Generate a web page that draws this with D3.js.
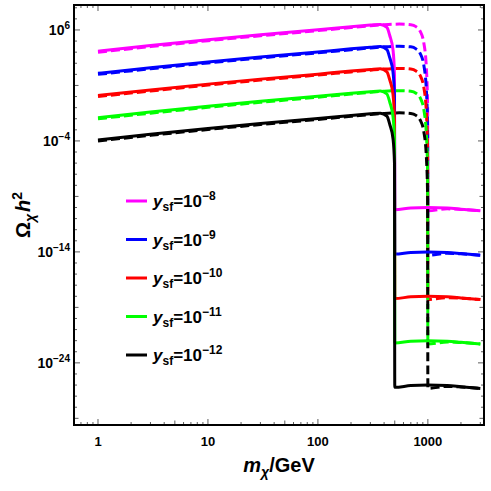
<!DOCTYPE html>
<html>
<head>
<meta charset="utf-8">
<script src="https://cdn.jsdelivr.net/npm/d3@7"></script>
<style>
  body { margin: 0; background: #fff; }
  text { font-family: "Liberation Sans", Arial, sans-serif; font-weight: bold; }
</style>
</head>
<body>
<div id="root"></div>
<script>
// couplings and colours, one per curve pair
var couplingExp = ["\u22128", "\u22129", "\u221210", "\u221211", "\u221212"];
var colors = ["#ff00ff", "#0000ff", "#ff0000", "#00ff00", "#000000"];

// solid curves: mass in GeV, log10 of relic abundance
var massSolid = [1, 3, 10, 30, 100, 200, 300, 370, 424, 450, 482, 497, 500, 700, 1000, 1500, 2000, 3000];
var solidMagenta = [4.09, 4.60, 5.12, 5.57, 6.02, 6.30, 6.44, 6.50, 6.23, 5.50, 4.20, 2.0, -10.2, -10.05, -10.0, -10.05, -10.15, -10.3];
var solidBlue    = [2.09, 2.60, 3.12, 3.57, 4.02, 4.30, 4.44, 4.50, 4.23, 3.50, 2.20, 0.0, -14.2, -14.05, -14.0, -14.05, -14.15, -14.3];
var solidRed     = [0.09, 0.60, 1.12, 1.57, 2.02, 2.30, 2.44, 2.50, 2.23, 1.50, 0.20, -2.0, -18.2, -18.05, -18.0, -18.05, -18.15, -18.3];
var solidGreen   = [-1.91, -1.40, -0.88, -0.43, 0.02, 0.30, 0.44, 0.50, 0.23, -0.50, -1.80, -4.0, -22.2, -22.05, -22.0, -22.05, -22.15, -22.3];
var solidBlack   = [-3.91, -3.40, -2.88, -2.43, -1.98, -1.70, -1.56, -1.50, -1.77, -2.50, -3.80, -6.0, -26.2, -26.05, -26.0, -26.05, -26.15, -26.3];

// dashed curves
var massDashed = [1, 3, 10, 30, 100, 200, 300, 400, 550, 700, 780, 850, 920, 970, 995, 1000, 1500, 2000, 3000];
var dashedMagenta = [4.0, 4.50, 5.03, 5.48, 5.94, 6.22, 6.38, 6.48, 6.53, 6.48, 6.30, 5.9, 4.8, 2.5, -1.0, -10.3, -10.12, -10.17, -10.3];
var dashedBlue    = [2.0, 2.50, 3.03, 3.48, 3.94, 4.22, 4.38, 4.48, 4.53, 4.48, 4.30, 3.9, 2.8, 0.5, -3.0, -14.3, -14.12, -14.17, -14.3];
var dashedRed     = [0.0, 0.50, 1.03, 1.48, 1.94, 2.22, 2.38, 2.48, 2.53, 2.48, 2.30, 1.9, 0.8, -1.5, -5.0, -18.3, -18.12, -18.17, -18.3];
var dashedGreen   = [-2.0, -1.50, -0.97, -0.52, -0.06, 0.22, 0.38, 0.48, 0.53, 0.48, 0.30, -0.1, -1.2, -3.5, -7.0, -22.3, -22.12, -22.17, -22.3];
var dashedBlack   = [-4.0, -3.50, -2.97, -2.52, -2.06, -1.78, -1.62, -1.52, -1.47, -1.52, -1.70, -2.1, -3.2, -5.5, -9.0, -26.3, -26.12, -26.17, -26.3];

// axis ticks
var xMajor = [1, 10, 100, 1000];
var xLabels = ["1", "10", "100", "1000"];
var yMajorExp = [6, -4, -14, -24];
var yLabels = ["6", "\u22124", "\u221214", "\u221224"];

var solidSeries = [solidMagenta, solidBlue, solidRed, solidGreen, solidBlack];
var dashedSeries = [dashedMagenta, dashedBlue, dashedRed, dashedGreen, dashedBlack];

var width = 491, height = 491;
var plot = { left: 74, right: 484, top: 5, bottom: 425 };

var x = d3.scaleLog().domain([0.605, 3240]).range([plot.left, plot.right]);
var y = d3.scaleLog().domain([Math.pow(10, -29.6), Math.pow(10, 8.25)]).range([plot.bottom, plot.top]);

var svg = d3.select("#root").append("svg")
  .attr("width", width).attr("height", height);

svg.append("defs").append("clipPath").attr("id", "clip")
  .append("rect")
  .attr("x", plot.left).attr("y", plot.top)
  .attr("width", plot.right - plot.left).attr("height", plot.bottom - plot.top);

// ticks: minor every decade on y, 2..9 on x, all pointing inward
var ticks = svg.append("g").attr("stroke", "#333").attr("stroke-width", 0.8);

for (var e = -29; e <= 8; e++) {
  var len = (e + 24) % 10 === 0 ? 6 : ((e + 24) % 5 === 0 ? 4.5 : 3);
  var yy = y(Math.pow(10, e));
  ticks.append("line").attr("x1", plot.left).attr("x2", plot.left + len).attr("y1", yy).attr("y2", yy);
  ticks.append("line").attr("x1", plot.right).attr("x2", plot.right - len).attr("y1", yy).attr("y2", yy);
}

for (var d = -1; d <= 3; d++) {
  for (var k = 1; k <= 9; k++) {
    var v = k * Math.pow(10, d);
    if (v < x.domain()[0] || v > x.domain()[1]) continue;
    var lenx = k === 1 ? 6 : (k === 5 ? 4.5 : 3);
    var xx = x(v);
    ticks.append("line").attr("x1", xx).attr("x2", xx).attr("y1", plot.bottom).attr("y2", plot.bottom - lenx);
    ticks.append("line").attr("x1", xx).attr("x2", xx).attr("y1", plot.top).attr("y2", plot.top + lenx);
  }
}

// curves
var line = d3.line()
  .x(function (p) { return x(p[0]); })
  .y(function (p) { return y(Math.pow(10, p[1])); })
  .curve(d3.curveMonotoneX);

var curves = svg.append("g").attr("clip-path", "url(#clip)");

for (var i = 0; i < solidSeries.length; i++) {
  curves.append("path")
    .datum(d3.zip(massDashed, dashedSeries[i]))
    .attr("d", line)
    .attr("fill", "none")
    .attr("stroke", colors[i])
    .attr("stroke-width", 3)
    .attr("stroke-dasharray", "9,4");
}
for (var i = 0; i < solidSeries.length; i++) {
  curves.append("path")
    .datum(d3.zip(massSolid, solidSeries[i]))
    .attr("d", line)
    .attr("fill", "none")
    .attr("stroke", colors[i])
    .attr("stroke-width", 3);
}

// frame
svg.append("rect")
  .attr("x", plot.left).attr("y", plot.top)
  .attr("width", plot.right - plot.left).attr("height", plot.bottom - plot.top)
  .attr("fill", "none").attr("stroke", "#000").attr("stroke-width", 2);

// tick labels
xMajor.forEach(function (v, j) {
  svg.append("text")
    .attr("x", x(v)).attr("y", 446)
    .attr("text-anchor", "middle")
    .attr("font-size", "13px")
    .text(xLabels[j]);
});

yMajorExp.forEach(function (ex, j) {
  var t = svg.append("text")
    .attr("x", 70).attr("y", y(Math.pow(10, ex)) + 5)
    .attr("text-anchor", "end")
    .attr("font-size", "14px");
  t.append("tspan").text("10");
  t.append("tspan").attr("dy", -6).attr("font-size", "10px").text(yLabels[j]);
});

// axis titles
var xt = svg.append("text")
  .attr("x", 279).attr("y", 472)
  .attr("text-anchor", "middle")
  .attr("font-size", "20px");
xt.append("tspan").attr("font-style", "italic").text("m");
xt.append("tspan").attr("font-style", "italic").attr("font-size", "14px").attr("dy", 5).text("\u03c7");
xt.append("tspan").attr("dy", -5).text("/GeV");

var yt = svg.append("text")
  .attr("transform", "translate(30,215) rotate(-90)")
  .attr("text-anchor", "middle")
  .attr("font-size", "20px");
yt.append("tspan").text("\u03a9");
yt.append("tspan").attr("font-style", "italic").attr("font-size", "14px").attr("dy", 5).text("\u03c7");
yt.append("tspan").attr("font-style", "italic").attr("dy", -5).attr("dx", 2).text("h");
yt.append("tspan").attr("font-size", "14px").attr("dy", -8).text("2");

// legend
var legend = svg.append("g");
colors.forEach(function (c, j) {
  var ly = 201 + j * 38.5;
  legend.append("line")
    .attr("x1", 126).attr("x2", 147)
    .attr("y1", ly).attr("y2", ly)
    .attr("stroke", c).attr("stroke-width", 3);
  var t = legend.append("text")
    .attr("x", 153).attr("y", ly + 6)
    .attr("font-size", "17px");
  t.append("tspan").attr("font-style", "italic").text("y");
  t.append("tspan").attr("font-size", "12px").attr("dy", 4).text("sf");
  t.append("tspan").attr("dy", -4).text("=10");
  t.append("tspan").attr("font-size", "12px").attr("dy", -7).text(couplingExp[j]);
});
</script>
</body>
</html>
